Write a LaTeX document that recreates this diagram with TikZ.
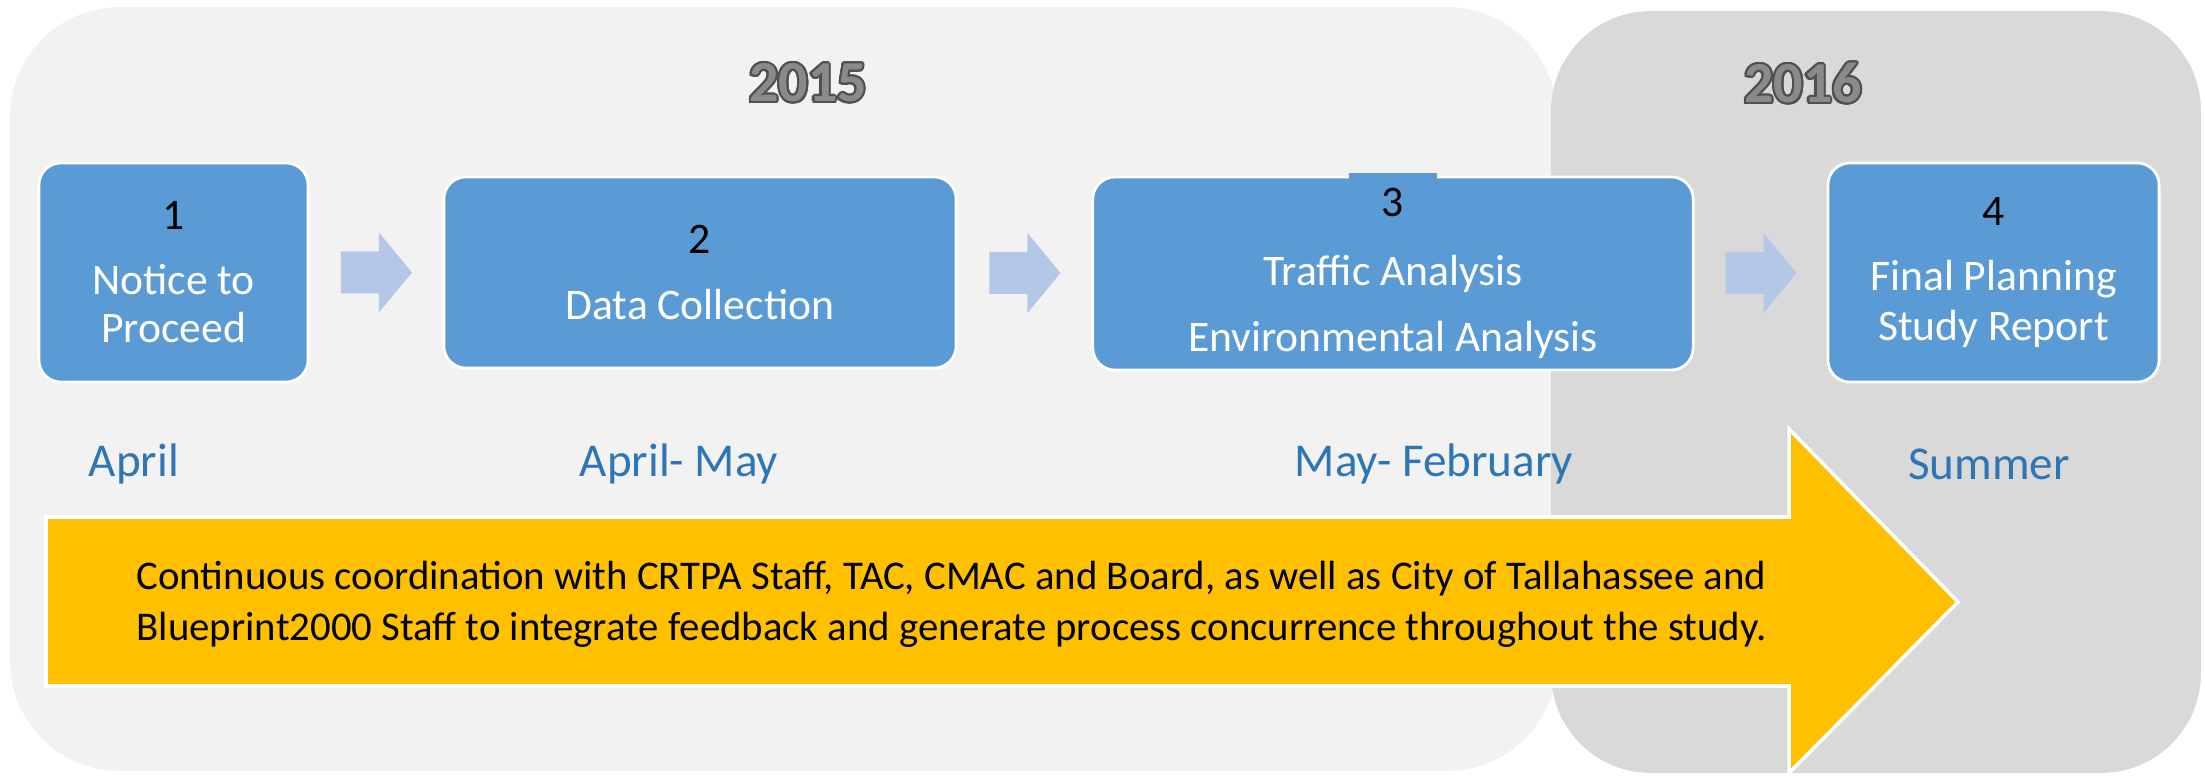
\documentclass[tikz,border=0pt]{standalone}
\usepackage{fontspec}
\setmainfont{Carlito}
\usepackage[copies]{contour}
\usetikzlibrary{calc,positioning}
\definecolor{panelA}{HTML}{F2F2F2}
\definecolor{panelB}{HTML}{D9D9D9}
\definecolor{stepblue}{HTML}{5B9BD5}
\definecolor{chevron}{HTML}{B4C7E7}
\definecolor{monthblue}{HTML}{2E75B6}
\definecolor{bigyellow}{HTML}{FFC000}
\definecolor{yeargray}{HTML}{8A8A8A}
\definecolor{yearline}{HTML}{505050}
\contourlength{0.6pt}
\tikzset{
  stepbox/.style={fill=stepblue, draw=white, line width=0.8pt,
    rounded corners=0.22cm, text=white, align=center, inner sep=0pt,
    font=\fontsize{12.4}{13.7}\selectfont},
  month/.style={text=monthblue, font=\fontsize{13.4}{16}\selectfont},
  yearlbl/.style={font=\fontsize{16.5}{20}\selectfont\bfseries},
}
\begin{document}
\begin{tikzpicture}[x=0.01cm,y=-0.01cm]
  \useasboundingbox (0,0) rectangle (2205,776);
  \fill[white] (0,0) rectangle (2205,776);
  % year panels
  \fill[panelA,rounded corners=1.1cm] (10,7) rectangle (1557,771);
  \fill[panelB,rounded corners=1cm] (1551,11) rectangle (2201,773);
  \node[yearlbl] (y15) at (808,84) {\contour{yearline}{\textcolor{yeargray}{2015}}};
  \node[yearlbl] (y16) at (1803,84) {\contour{yearline}{\textcolor{yeargray}{2016}}};
  % steps
  \node[stepbox,minimum width=2.69cm,minimum height=2.19cm] (s1) at (173.5,272.5)
   {\textcolor{black}{1}\\[4.8pt]Notice to\\Proceed};
  \node[stepbox,minimum width=5.12cm,minimum height=1.91cm] (s2) at (700,272.5)
   {\textcolor{black}{2}\\[4.8pt]Data Collection};
  \node[stepbox,minimum width=6.00cm,minimum height=1.93cm] (s3) at (1393,273.5)
   {\textcolor{black}{3}\\[5.9pt]Traffic Analysis\\[5.1pt]Environmental Analysis};
  \fill[stepblue] (1349,173) rectangle (1437,182);
  \node[stepbox,minimum width=3.31cm,minimum height=2.19cm] (s4) at (1993.5,272.5)
   {\textcolor{black}{4}\\[4.8pt]Final Planning\\[0.5pt]Study Report};
  % chevrons between the steps
  \foreach \a/\b in {s1/s2,s2/s3,s3/s4}{
    \path ($(\a.east)!0.5!(\b.west)$) coordinate (mid);
    \fill[chevron] ($(mid)+(-35,-21)$) -- ++(38,0) -- ++(0,-19) -- ++(33,40)
      -- ++(-33,40) -- ++(0,-19) -- ++(-38,0) -- cycle;
  }
  % months
  \node[month] (m1) at (134,464) {April};
  \node[month] (m2) at (679,464) {April- May};
  \node[month] (m3) at (1434,464) {May- February};
  \node[month] (m4) at (1989,464) {Summer};
  % coordination arrow
  \filldraw[fill=bigyellow,draw=white,line width=1pt] (46,517) -- (1789,517)
    -- (1789,429) -- (1958,602) -- (1789,773) -- (1789,686) -- (46,686) -- cycle;
  \node[anchor=west,align=left,inner sep=0pt,font=\fontsize{11.6}{14.5}\selectfont] (note) at (136,604)
   {Continuous coordination with CRTPA Staff, TAC, CMAC and Board, as well as City of Tallahassee and\\
    Blueprint2000 Staff to integrate feedback and generate process concurrence throughout the study.};
\end{tikzpicture}
\end{document}
